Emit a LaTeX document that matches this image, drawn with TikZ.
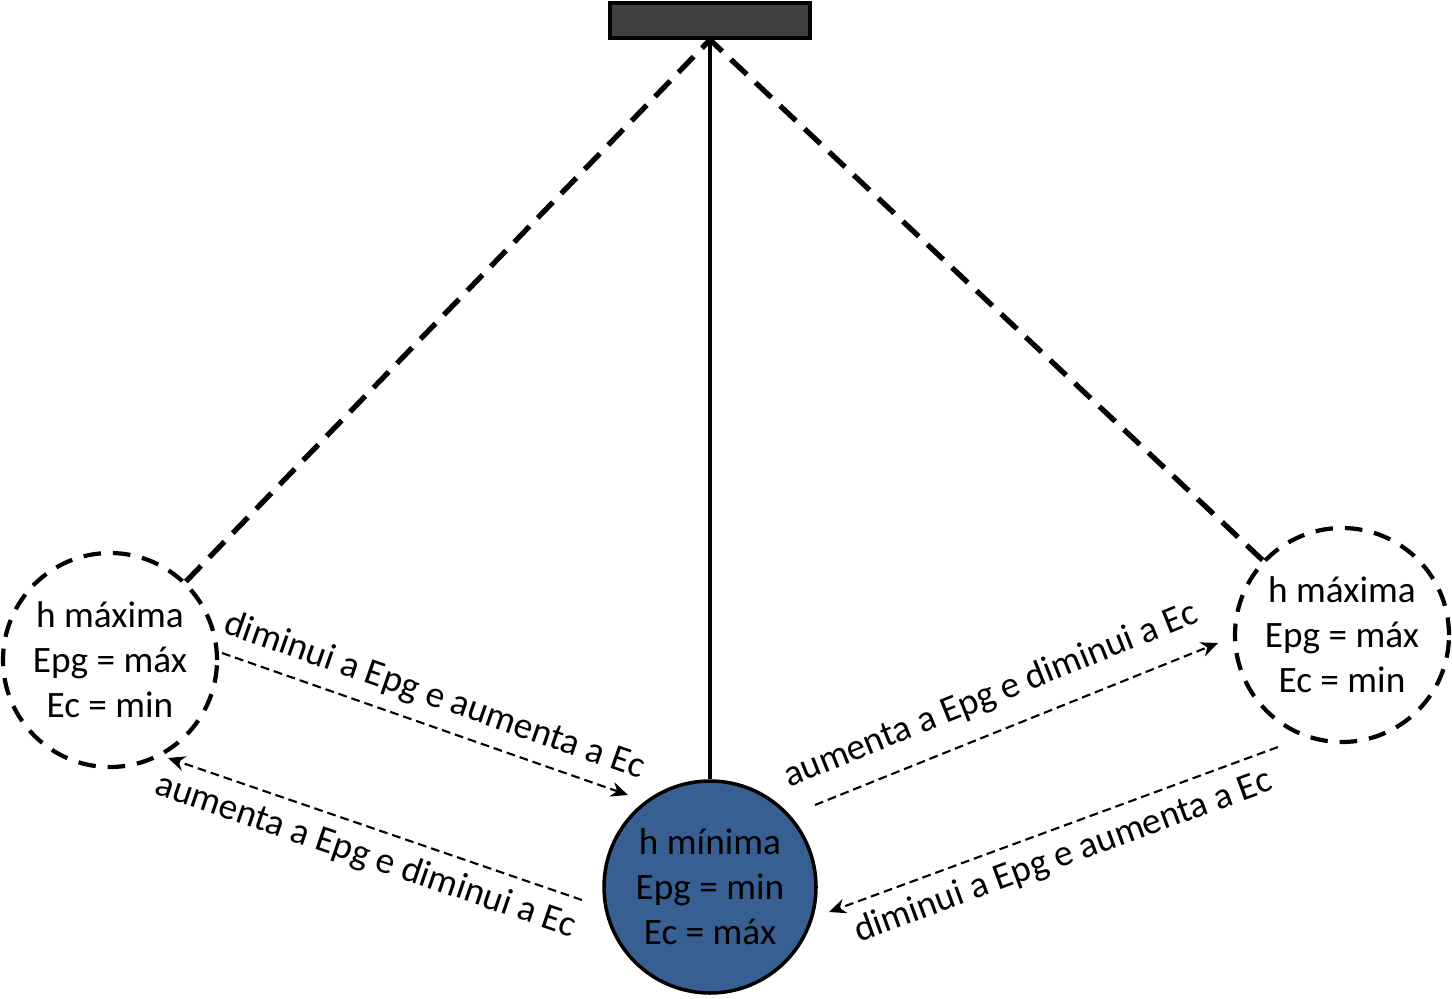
\documentclass[tikz,border=0pt]{standalone}
\usepackage{fontspec}
\setmainfont{Carlito}
\usepackage{xcolor}
\usetikzlibrary{shapes,arrows,positioning,calc,arrows.meta}
\definecolor{barfill}{HTML}{404040}
\definecolor{ballblue}{HTML}{375F92}
\begin{document}
\begin{tikzpicture}[
				font=\fontsize{10.6pt}{12.8pt}\selectfont,
				ceilingbar/.style={draw, rectangle, fill=barfill, line width=1pt, minimum width=2cm, minimum height=0.35cm, inner sep=0pt},
				ghost/.style={draw, circle, line width=1.2pt, dash pattern=on 5pt off 3.4pt, minimum size=2.14cm, align=center, inner sep=0pt},
				ball/.style={draw, circle, fill=ballblue, line width=1pt, minimum size=2.12cm, align=center, inner sep=0pt},
				rope/.style={line width=1.5pt, dash pattern=on 6.2pt off 3.4pt},
				rod/.style={line width=1.3pt},
				flow/.style={line width=0.6pt, dash pattern=on 2.5pt off 1.4pt, -{Stealth[length=1.7mm,width=1.5mm]}}
				]
				\useasboundingbox (0,0) rectangle (14.52,9.98);
				\node[ceilingbar] (ceiling) at (7.10,9.775) {};
				\coordinate (pivot) at (ceiling.south);
				\node[ghost] (lmax) at (1.10,3.38) {h máxima\\Epg = máx\\Ec = min};
				\node[ghost] (rmax) at (13.42,3.63) {h máxima\\Epg = máx\\Ec = min};
				\node[ball] (hmin) at (7.10,1.11) {h mínima\\Epg = min\\Ec = máx};
				
				\draw[rod] (hmin) -- (pivot);
				\draw[rope] (lmax) -- (pivot);
				\draw[rope] (rmax) -- (pivot);
				
				\coordinate (a1s) at (2.22,3.45);
				\coordinate (a1e) at (6.28,2.03);
				\coordinate (a2s) at (5.82,0.98);
				\coordinate (a2e) at (1.68,2.40);
				\coordinate (a3s) at (8.15,1.93);
				\coordinate (a3e) at (12.18,3.55);
				\coordinate (a4s) at (12.78,2.51);
				\coordinate (a4e) at (8.29,0.86);
				
				\draw[flow] (a1s) -- node[above, sloped] {diminui a Epg e aumenta a Ec} (a1e);
				\draw[flow] (a2s) -- node[below, sloped] {aumenta a Epg e diminui a Ec} (a2e);
				\draw[flow] (a3s) -- node[above=2pt, sloped, pos=0.47] {aumenta a Epg e diminui a Ec} (a3e);
				\draw[flow] (a4s) -- node[below, sloped] {diminui a Epg e aumenta a Ec} (a4e);
			\end{tikzpicture}
\end{document}
